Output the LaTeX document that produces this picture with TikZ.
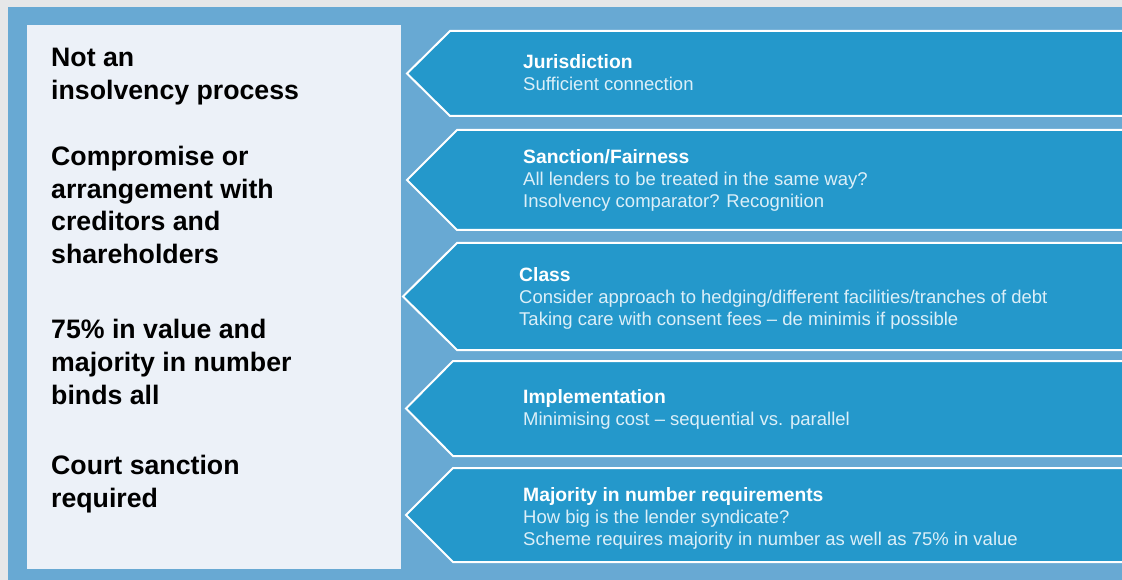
\documentclass[tikz,border=0pt]{standalone}
\usepackage{fontspec}
\setmainfont{Liberation Sans}
\definecolor{pagegray}{HTML}{E6E7E8}
\definecolor{bgblue}{HTML}{68A9D3}
\definecolor{panelwhite}{HTML}{ECF1F8}
\definecolor{arrowblue}{HTML}{2498CB}
\definecolor{paletext}{HTML}{DCEFF8}
\newcommand{\boxtitle}[1]{{\color{white}\fontsize{19.3}{22}\selectfont\bfseries #1}}

\begin{document}
\begin{tikzpicture}[x=1pt, y=-1pt,
  chevron/.style={draw=white, line width=2pt, fill=arrowblue},
  lefttext/.style={anchor=base west, align=left, inner sep=0pt, font=\fontsize{26.7}{33}\selectfont\bfseries},
  righttext/.style={anchor=base west, align=left, inner sep=0pt, text=paletext, font=\fontsize{18.5}{22}\selectfont}]
\def\farx{1130}

\useasboundingbox (0,0) rectangle (1122,580);
\fill[pagegray] (0,0) rectangle (1122,580);
\fill[bgblue] (8,7) rectangle (1122,580);
\fill[panelwhite] (27,25) rectangle (401,569);

% left panel (nodes sit on the baseline of their last line)
\node[lefttext] (notinsolv) at (51,100) {Not an\\insolvency process};
\node[lefttext] (compromise) at (51,264) {Compromise or\\arrangement with\\creditors and\\shareholders};
\node[lefttext] (majority) at (51,404) {75\% in value and\\majority in number\\binds all};
\node[lefttext] (court) at (51,507) {Court sanction\\required};

% chevrons
\draw[chevron] (\farx,31) -- (450,31) -- (407,73.5) -- (450,116) -- (\farx,116);
\draw[chevron] (\farx,130) -- (457,130) -- (407,180) -- (457,230) -- (\farx,230);
\draw[chevron] (\farx,243) -- (457,243) -- (403,296.5) -- (457,350) -- (\farx,350);
\draw[chevron] (\farx,361) -- (453,361) -- (406,408.5) -- (453,456) -- (\farx,456);
\draw[chevron] (\farx,468) -- (453,468) -- (406,515) -- (453,562) -- (\farx,562);

\node[righttext] (juris) at (523,91) {\boxtitle{Jurisdiction}\\Sufficient connection};
\node[righttext] (sanction) at (523,208) {\boxtitle{Sanction/Fairness}\\All lenders to be treated in the same way?\\Insolvency comparator? Recognition};
\node[righttext] (class) at (519,325) {\boxtitle{Class}\\Consider approach to hedging/different facilities/tranches of debt\\Taking care with consent fees -- de minimis if possible};
\node[righttext] (implement) at (523,425) {\boxtitle{Implementation}\\Minimising cost -- sequential vs. parallel};
\node[righttext] (numbers) at (523,545) {\boxtitle{Majority in number requirements}\\How big is the lender syndicate?\\Scheme requires majority in number as well as 75\% in value};
\end{tikzpicture}
\end{document}
